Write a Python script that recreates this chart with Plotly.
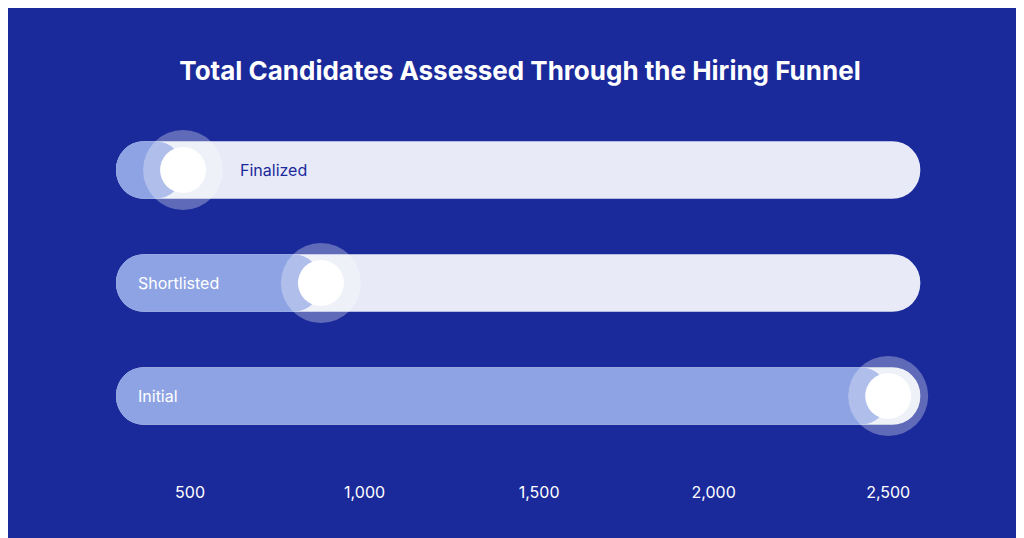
import plotly.graph_objects as go

categories = ["Initial", "Shortlisted", "Finalized"]
values = [2500, 875, 480]
track_start = 288
track_end = 2592
tick_vals = [500, 1000, 1500, 2000, 2500]
tick_text = ["500", "1,000", "1,500", "2,000", "2,500"]

BG = "#1B2A9B"
pos = list(range(len(categories)))

fig = go.Figure()
fig.add_trace(go.Bar(y=pos, x=[track_end - track_start] * len(pos), base=[track_start] * len(pos),
                     orientation="h", marker=dict(color="#E8EBF7", line=dict(width=0)),
                     width=0.51, hoverinfo="skip"))
fig.add_trace(go.Bar(y=pos, x=[v - track_start for v in values], base=[track_start] * len(pos),
                     orientation="h", marker=dict(color="#8EA3E3", line=dict(width=0)),
                     width=0.51, hoverinfo="skip"))
fig.add_trace(go.Scatter(x=values, y=pos, mode="markers",
                         marker=dict(size=80, color="rgba(255,255,255,0.3)", line=dict(width=0)),
                         hoverinfo="skip"))
fig.add_trace(go.Scatter(x=values, y=pos, mode="markers",
                         marker=dict(size=46, color="white", line=dict(width=0)),
                         hoverinfo="skip"))

for p, c, v in zip(pos, categories, values):
    knob_near_start = v < track_start + 300
    fig.add_annotation(x=v if knob_near_start else track_start, y=p, text=c, showarrow=False,
                       xanchor="left", xshift=55 if knob_near_start else 20,
                       font=dict(size=16, color="#1B2A9B" if knob_near_start else "white",
                                 family="Inter"))

fig.update_layout(
    width=1024, height=538, paper_bgcolor=BG, plot_bgcolor=BG,
    margin=dict(l=0, r=0, t=0, b=65), showlegend=False, barmode="overlay",
    barcornerradius="50%",
    title=dict(text="<b>Total Candidates Assessed Through the Hiring Funnel</b>", x=0.5, xanchor="center",
               y=1 - 63 / 538, yanchor="middle", font=dict(size=26, color="white", family="Inter")),
    xaxis=dict(range=[-21.5, 2912], tickvals=tick_vals, ticktext=tick_text, showgrid=False,
               zeroline=False, showline=False, ticks="", tickfont=dict(size=16, color="white", family="Inter")),
    yaxis=dict(range=[-0.752, 3.434], visible=False, showgrid=False, zeroline=False),
)
fig.write_html("out.html")
